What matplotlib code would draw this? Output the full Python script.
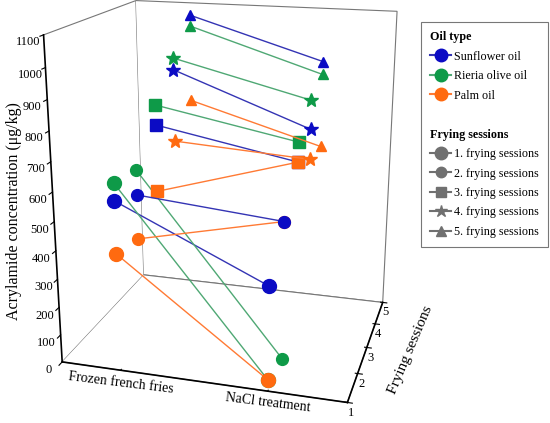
import matplotlib
matplotlib.use('Agg')
import matplotlib.pyplot as plt
from matplotlib.lines import Line2D
from matplotlib.transforms import ScaledTranslation

plt.rcParams['font.family'] = ['Liberation Serif', 'DejaVu Serif']

treatments = ['Frozen french fries', 'NaCl treatment']
sessions = [1, 2, 3, 4, 5]
oils = ['Sunflower oil', 'Rieria olive oil', 'Palm oil']

# acrylamide (ug/kg), one list per oil and treatment, index = frying session
sunflower_frozen = [590, 547, 737, 890, 1055]
sunflower_nacl = [362, 504, 646, 709, 910]
olive_frozen = [649, 633, 807, 932, 1015]
olive_nacl = [40, 18, 715, 812, 863]
palm_frozen = [412, 392, 498, 628, 735]
palm_nacl = [40, 504, 646, 600, 594]

oil_colors = ['#0b0bc4', '#0e9a48', '#ff6a10']
line_colors = ['#3434b4', '#4fa874', '#ff7a34']
markers = ['o', 'o', 's', '*', '^']
msizes = [10, 8.5, 8, 10, 7.5]

data = [(sunflower_frozen, sunflower_nacl),
        (olive_frozen, olive_nacl),
        (palm_frozen, palm_nacl)]

fig = plt.figure(figsize=(5.5, 4.23), dpi=100)
ax = fig.add_axes([0.022, 0.052, 0.78, 1.0], projection='3d', computed_zorder=False)
ax.set_proj_type('persp', focal_length=0.45)
ax.view_init(elev=18, azim=-74)
ax.set_box_aspect((320, 256, 365), zoom=1.115)

for k, (fr, na) in enumerate(data):
    for i, s in enumerate(sessions):
        z = 3 if (k == 0 and i == 1) else 2   # blue ball sits on top at NaCl, session 2
        ax.plot([1, 2], [s, s], [fr[i], na[i]], color=line_colors[k], lw=1.0,
                marker=markers[i], ms=msizes[i], mfc=oil_colors[k], mec=oil_colors[k],
                zorder=z)

ax.set_xlim(0.58, 2.51)
ax.set_ylim(1, 5)
ax.set_zlim(0, 1100)
ax.set_xticks([1, 2])
ax.set_xticklabels(treatments, fontsize=10, rotation=-7)
ax.set_yticks(sessions)
ax.set_yticklabels([str(s) for s in sessions], fontsize=9)
ax.set_zticks(range(0, 1101, 100))
ax.tick_params(axis='x', pad=-8)
ax.tick_params(axis='y', pad=-6)
ax.tick_params(axis='z', labelsize=9, pad=-2)
ax.zaxis.set_ticks_position('lower')
ax.zaxis._axinfo['tick']['inward_factor'] = 0.4
ax.zaxis._axinfo['tick']['outward_factor'] = 0.0
ax.xaxis._axinfo['tick']['inward_factor'] = 0.0
ax.grid(False)
for a in (ax.xaxis, ax.yaxis, ax.zaxis):
    a.set_pane_color('white')
    a.pane.set_edgecolor('#777777')
    a.pane.set_linewidth(0.8)
    a.line.set_color('black')
    a.line.set_linewidth(1.2)

# axis titles (the 3d axis would turn the vertical one upside down)
fig.text(0.025, 0.50, 'Acrylamide concentration (\u03bcg/kg)', rotation=90,
         ha='center', va='center', fontsize=11.5)
fig.text(0.747, 0.173, 'Frying sessions', rotation=67,
         ha='center', va='center', fontsize=11)

# legend with two bold group headers
blank = Line2D([], [], linestyle='none')
handles = [blank]
labels = ['Oil type']
for k, oil in enumerate(oils):
    handles.append(Line2D([], [], color=line_colors[k], marker='o', ms=9,
                          mfc=oil_colors[k], mec=oil_colors[k]))
    labels.append(oil)
handles += [blank, blank]
labels += ['', 'Frying sessions']
for i, s in enumerate(sessions):
    handles.append(Line2D([], [], color='#707070', marker=markers[i], ms=msizes[i] - 1,
                          mfc='#707070', mec='#707070'))
    labels.append(f'{s}. frying sessions')

leg = fig.legend(handles, labels, loc='upper right', bbox_to_anchor=(0.997, 0.948),
                 fontsize=8.7, frameon=True, fancybox=False, edgecolor='#555555',
                 handlelength=1.7, handletextpad=0.3, labelspacing=0.62,
                 borderpad=0.75, borderaxespad=0)
leg.get_frame().set_linewidth(0.8)
for t in leg.get_texts():
    if t.get_text() in ('Oil type', 'Frying sessions'):
        t.set_fontweight('bold')
        t.set_transform(t.get_transform() + ScaledTranslation(-0.242, 0, fig.dpi_scale_trans))

fig.savefig('out.png', dpi=100)
